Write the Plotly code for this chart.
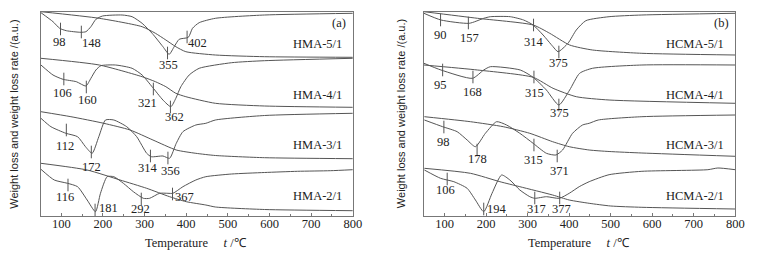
import plotly.graph_objects as go

# ---------------- data (temperature in degC, signal in arbitrary units) ----------------
# Panel (a)
hma5_tg_t = [51, 191, 294, 326, 351, 375, 399, 470, 588, 800]
hma5_tg_v = [204.3, 197.7, 189.3, 182.7, 176, 169.3, 164.3, 161, 159.3, 158.7]
hma5_dtg_t = [51, 80, 96, 112, 147, 159, 171, 183, 199, 246, 270, 294, 318, 344, 359, 371, 383, 405, 415, 431, 470, 588, 800]
hma5_dtg_v = [203.3, 194.3, 187.7, 185.3, 183.7, 184.3, 189.3, 196.7, 200, 201, 199.3, 192.7, 182.7, 169.3, 161.7, 169.3, 176.7, 178.7, 187.7, 193.3, 197.7, 201, 202.7]

hma4_tg_t = [51, 191, 294, 326, 351, 375, 399, 470, 588, 800]
hma4_tg_v = [157.7, 151, 139.3, 134.3, 129.3, 122.7, 119.3, 112.7, 110, 108.7]
hma4_dtg_t = [51, 80, 104, 136, 159, 171, 183, 195, 230, 270, 294, 319, 344, 363, 375, 387, 407, 431, 509, 588, 800]
hma4_dtg_v = [151, 141, 136.7, 134.3, 130, 137.7, 146, 150.3, 151, 147.7, 141, 128.7, 116, 109.3, 117.7, 129.3, 141, 147.7, 153.3, 155.3, 157.7]

hma3_tg_t = [51, 123, 202, 265, 320, 376, 423, 470, 588, 800]
hma3_tg_v = [104.3, 99.3, 92.7, 86, 76, 66, 62.7, 60.5, 58.3, 57.3]
hma3_dtg_t = [51, 75, 111, 139, 158, 174, 190, 206, 226, 257, 281, 305, 316, 344, 360, 376, 392, 423, 447, 470, 588, 800]
hma3_dtg_v = [97.7, 89.3, 82.7, 79.3, 69.3, 62.7, 79.3, 96, 96, 89.3, 79.3, 62.7, 59.3, 60, 57.7, 72.7, 84.3, 91, 92.7, 96, 100.5, 102.7]

hma2_tg_t = [51, 162, 241, 305, 360, 400, 447, 470, 588, 800]
hma2_tg_v = [52.7, 46, 36, 27.7, 19.3, 14.3, 11, 9, 6.5, 5.3]
hma2_dtg_t = [51, 83, 115, 139, 162, 182, 194, 210, 226, 249, 273, 297, 312, 336, 356, 368, 392, 423, 447, 509, 588, 667, 746, 800]
hma2_dtg_v = [46.7, 36, 32.7, 29.3, 16, 4.3, 22.7, 39.3, 39.3, 32.7, 24.3, 17.7, 17.7, 22.7, 22.7, 22.7, 29.3, 36, 39.3, 42, 43.5, 44.7, 45.3, 46.3]

# Panel (b)
hcma5_tg_t = [50, 179, 313, 353, 401, 456, 575, 800]
hcma5_tg_v = [204.3, 197.7, 191, 182.7, 171, 166, 162.7, 161]
hcma5_dtg_t = [50, 91, 159, 194, 210, 258, 290, 313, 337, 361, 373, 397, 417, 440, 496, 575, 800]
hcma5_dtg_v = [202.7, 196, 192.7, 197.7, 199.3, 199.3, 196, 191, 181, 169.3, 164.3, 172.7, 186, 195.3, 199.3, 201, 202.7]

hcma4_tg_t = [50, 179, 313, 361, 417, 496, 800]
hcma4_tg_v = [151, 146, 138.7, 127.7, 119.3, 116, 112.7]
hcma4_dtg_t = [50, 91, 167, 194, 210, 282, 313, 345, 375, 401, 425, 456, 575, 800]
hcma4_dtg_v = [152.7, 146, 137.7, 146, 149.3, 146, 138.7, 126, 111, 126, 142.7, 147.7, 151, 151]

hcma3_tg_t = [51, 162, 241, 305, 360, 400, 448, 496, 575, 800]
hcma3_tg_v = [99.3, 94.3, 89.3, 82.7, 74.3, 69.3, 66, 64.5, 63, 59.7]
hcma3_dtg_t = [51, 95, 130, 154, 174, 198, 225, 249, 281, 313, 345, 368, 384, 408, 432, 448, 470, 575, 800]
hcma3_dtg_v = [96, 89.3, 84.3, 76, 69.3, 82.7, 94.3, 91, 82.7, 72.7, 62.7, 61, 66, 82.7, 91, 92.7, 96, 99.3, 101]

hcma2_tg_t = [51, 162, 233, 281, 360, 400, 448, 500, 575, 800]
hcma2_tg_v = [47.7, 42.7, 34.3, 29.3, 21, 16, 12.7, 10, 8.7, 7]
hcma2_dtg_t = [51, 90, 122, 154, 174, 194, 214, 237, 257, 281, 305, 317, 345, 376, 400, 424, 448, 496, 575, 734, 758, 800]
hcma2_dtg_v = [46, 37.7, 34.3, 27.7, 16, 4.3, 22.7, 41, 36, 26, 19.3, 17.7, 19.3, 17.7, 22.7, 29.3, 34.3, 41.3, 44.7, 46.3, 48, 46.3]

# peak temperatures (marker positions) and their signal values
a_peak_t = [98, 148, 355, 402, 106, 160, 321, 362, 112, 172, 314, 356, 116, 181, 292, 367]
a_peak_v = [187, 184, 163, 179, 137, 129, 127, 109, 86, 64, 60, 58, 31, 6, 17, 22]
b_peak_t = [90, 157, 314, 375, 95, 168, 315, 375, 98, 178, 315, 371, 106, 194, 317, 377]
b_peak_v = [196, 193, 191, 164, 146, 139, 139, 111, 89, 66, 71, 60, 37, 7, 18, 18]

# peak label positions
a_lab_t = [96, 172, 357, 428, 103, 162, 307, 371, 110, 172, 309, 361, 110, 214, 290, 397]
a_lab_v = [174, 173, 151, 173, 123, 116, 113, 99, 70, 49, 48, 45, 19, 8, 7, 19]
b_lab_t = [90, 159, 314, 373, 91, 167, 317, 377, 97, 179, 314, 377, 103, 225, 320, 381]
b_lab_v = [181, 178, 174, 153, 131, 124, 123, 103, 74, 57, 56, 45, 26, 7, 7, 7]

a_names = ["HMA-5/1", "HMA-4/1", "HMA-3/1", "HMA-2/1"]
b_names = ["HCMA-5/1", "HCMA-4/1", "HCMA-3/1", "HCMA-2/1"]
name_v = [172, 121, 71, 20]
x_ticks = [100, 200, 300, 400, 500, 600, 700, 800]

# ---------------- figure ----------------
LC = "#555555"
SERIF = "Liberation Serif"
fig = go.Figure()

a_curves = [(hma5_tg_t, hma5_tg_v), (hma5_dtg_t, hma5_dtg_v),
            (hma4_tg_t, hma4_tg_v), (hma4_dtg_t, hma4_dtg_v),
            (hma3_tg_t, hma3_tg_v), (hma3_dtg_t, hma3_dtg_v),
            (hma2_tg_t, hma2_tg_v), (hma2_dtg_t, hma2_dtg_v)]
b_curves = [(hcma5_tg_t, hcma5_tg_v), (hcma5_dtg_t, hcma5_dtg_v),
            (hcma4_tg_t, hcma4_tg_v), (hcma4_dtg_t, hcma4_dtg_v),
            (hcma3_tg_t, hcma3_tg_v), (hcma3_dtg_t, hcma3_dtg_v),
            (hcma2_tg_t, hcma2_tg_v), (hcma2_dtg_t, hcma2_dtg_v)]

for curves, xa, ya in [(a_curves, "x", "y"), (b_curves, "x2", "y2")]:
    for t, v in curves:
        fig.add_trace(go.Scatter(x=t, y=v, mode="lines", xaxis=xa, yaxis=ya,
                                 line=dict(color=LC, width=1, shape="spline", smoothing=0.6),
                                 hoverinfo="skip", showlegend=False))

for pt, pv, xa, ya in [(a_peak_t, a_peak_v, "x", "y"), (b_peak_t, b_peak_v, "x2", "y2")]:
    fig.add_trace(go.Scatter(x=pt, y=pv, mode="markers", xaxis=xa, yaxis=ya,
                             marker=dict(symbol="line-ns", size=9, line=dict(color=LC, width=1)),
                             hoverinfo="skip", showlegend=False))

ann = []
for pt, lt, lv, xr, yr in [(a_peak_t, a_lab_t, a_lab_v, "x", "y"), (b_peak_t, b_lab_t, b_lab_v, "x2", "y2")]:
    for p, t, v in zip(pt, lt, lv):
        ann.append(dict(x=t, y=v, xref=xr, yref=yr, text=str(p), showarrow=False,
                        font=dict(family=SERIF, size=12.5, color="#222")))
for names, xr, yr, xt in [(a_names, "x", "y", 716), (b_names, "x2", "y2", 702)]:
    for n, v in zip(names, name_v):
        ann.append(dict(x=xt, y=v, xref=xr, yref=yr, text=n, showarrow=False,
                        font=dict(family=SERIF, size=12.5, color="#222")))
ann.append(dict(x=767, y=193, xref="x", yref="y", text="(a)", showarrow=False,
                font=dict(family=SERIF, size=12.5, color="#222")))
ann.append(dict(x=766, y=193, xref="x2", yref="y2", text="(b)", showarrow=False,
                font=dict(family=SERIF, size=12.5, color="#222")))

# axis titles
ytitle = "Weight loss and weight loss rate /(a.u.)"
for xp in [14 / 766, 406 / 766]:
    ann.append(dict(x=xp, y=0.555, xref="paper", yref="paper", text=ytitle, textangle=-90,
                    xanchor="center", yanchor="middle",
                    showarrow=False, font=dict(family="Liberation Sans", size=11, color="#222")))
xtitle = "Temperature&nbsp;&nbsp;&nbsp;&nbsp;&nbsp;<i>t</i> /℃"
for xp in [198 / 766, 586 / 766]:
    ann.append(dict(x=xp, y=13 / 256, xref="paper", yref="paper", text=xtitle,
                    xanchor="center", yanchor="middle",
                    showarrow=False, font=dict(family=SERIF, size=12.5, color="#222")))

xax = dict(range=[50, 800], showline=True, mirror=True, linecolor="#777", linewidth=1,
           ticks="inside", ticklen=3, tickcolor="#777", tickvals=x_ticks,
           minor=dict(ticks="inside", ticklen=2, dtick=50, tick0=50, tickcolor="#777"),
           showgrid=False, zeroline=False, ticklabelstandoff=-4,
           tickfont=dict(family=SERIF, size=12.5, color="#222"), fixedrange=True)
yax = dict(range=[0, 204], showline=True, mirror=True, linecolor="#777", linewidth=1,
           showticklabels=False, ticks="", showgrid=False, zeroline=False,
           domain=[40 / 256, 244 / 256], fixedrange=True)

fig.update_layout(
    width=766, height=256, margin=dict(l=0, r=0, t=0, b=0),
    paper_bgcolor="white", plot_bgcolor="white",
    xaxis=dict(xax, domain=[41 / 766, 357 / 766], anchor="y"),
    yaxis=dict(yax, anchor="x"),
    xaxis2=dict(xax, domain=[429 / 766, 744 / 766], anchor="y2"),
    yaxis2=dict(yax, anchor="x2"),
    annotations=ann,
)

fig.write_html("out.html", config={"displayModeBar": False, "staticPlot": True},
               post_script="document.body.style.margin='0';document.body.style.overflow='hidden';")
